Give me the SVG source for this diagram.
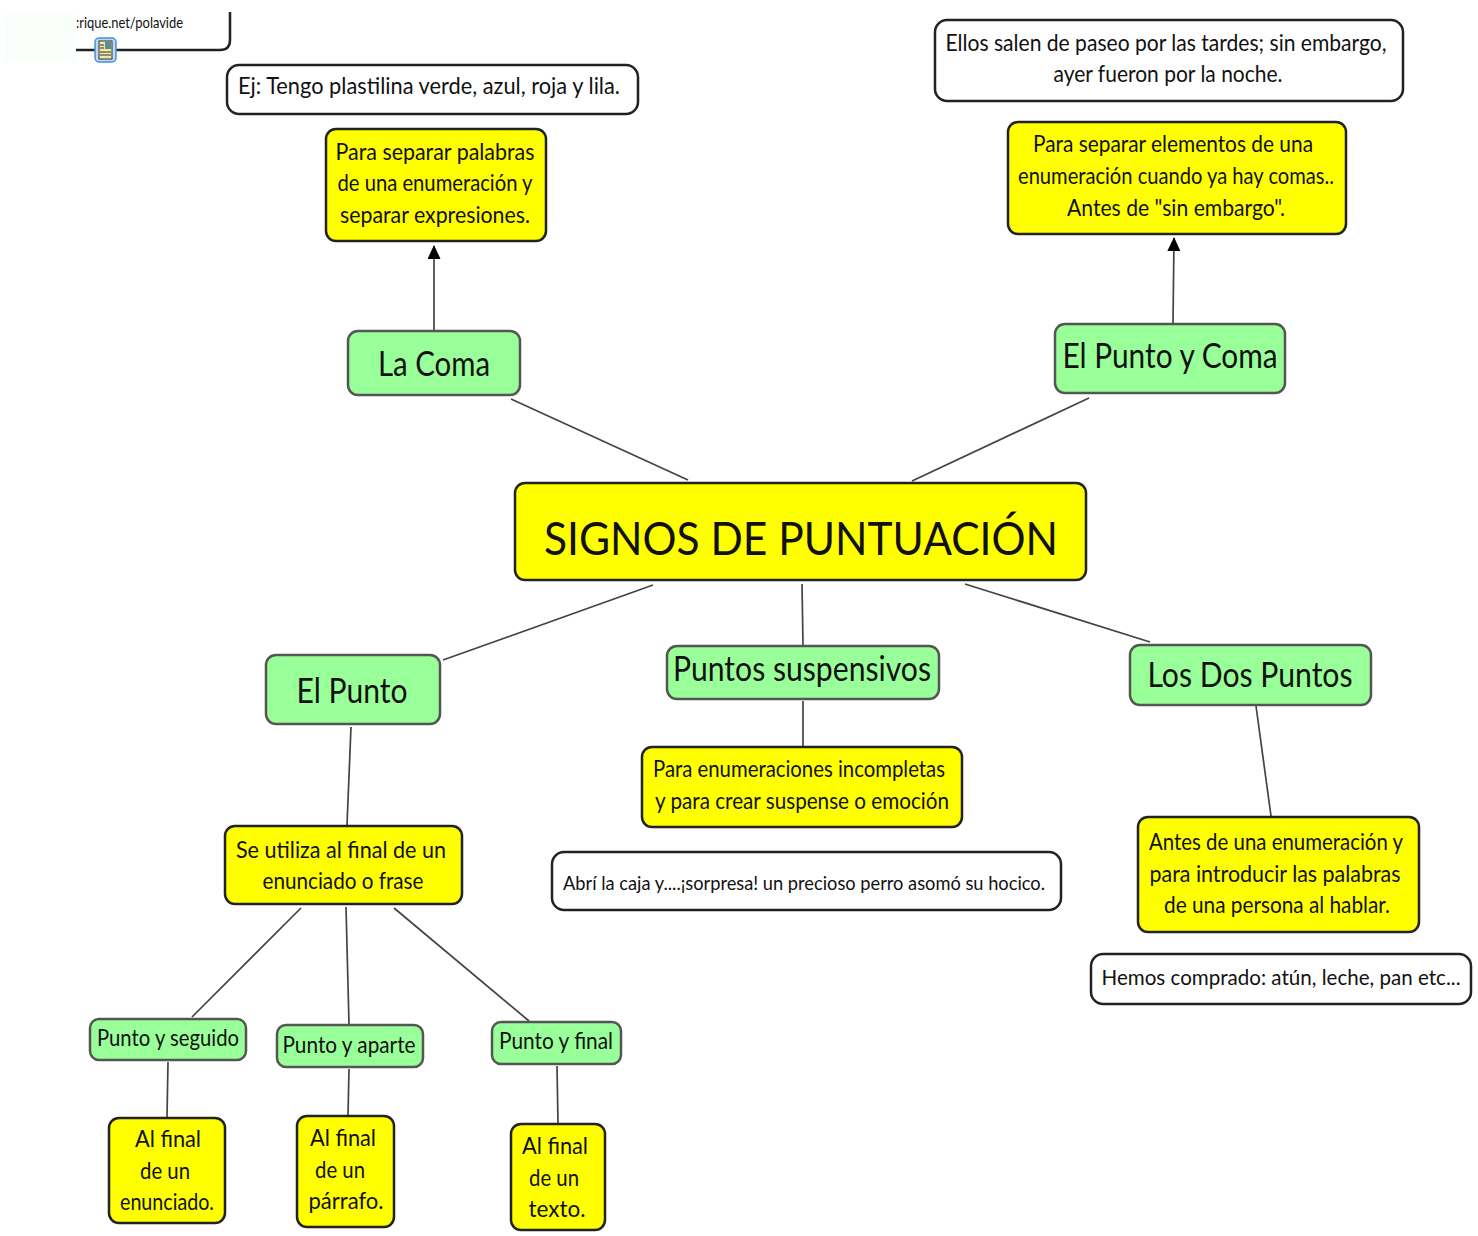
<svg xmlns="http://www.w3.org/2000/svg" width="1478" height="1236" viewBox="0 0 1478 1236">
<style>
text{font-family:"Lato","Liberation Sans",sans-serif;fill:#111;text-anchor:middle;font-size:23px}
.y{fill:#ffff00;stroke:#222;stroke-width:2.5}
.g{fill:#99ff99;stroke:#555;stroke-width:2.5}
.w{fill:#fff;stroke:#222;stroke-width:2.5}
.c line{stroke:#444;stroke-width:1.7}
</style>
<defs><marker id="a" markerWidth="14" markerHeight="16" refX="13" refY="6.5" orient="auto" markerUnits="userSpaceOnUse"><path d="M0,0L14,6.5L0,13Z" fill="#000"/></marker></defs>
<rect width="1478" height="1236" fill="#fff"/>
<rect x="5" y="12" width="71" height="50" fill="#fbfffb"/>
<g class="c">
<line x1="434" y1="330" x2="434" y2="246" marker-end="url(#a)"/>
<line x1="1173" y1="323" x2="1174" y2="238" marker-end="url(#a)"/>
<line x1="511" y1="399" x2="688" y2="480"/>
<line x1="1089" y1="398" x2="912" y2="481"/>
<line x1="653" y1="585" x2="443" y2="660"/>
<line x1="802" y1="584" x2="803" y2="645"/>
<line x1="965" y1="584" x2="1150" y2="642"/>
<line x1="803" y1="701" x2="803" y2="746"/>
<line x1="1256" y1="706" x2="1271" y2="816"/>
<line x1="351" y1="727" x2="347" y2="825"/>
<line x1="301" y1="908" x2="192" y2="1017"/>
<line x1="346" y1="907" x2="349" y2="1024"/>
<line x1="394" y1="908" x2="529" y2="1021"/>
<line x1="168" y1="1062" x2="167" y2="1117"/>
<line x1="349" y1="1069" x2="348" y2="1115"/>
<line x1="557" y1="1066" x2="558" y2="1123"/>
</g>
<g id="note-top"><path d="M76,50H220Q230,50 230,40V12" fill="#fff" stroke="#222" stroke-width="2.5"/><text x="129.500" y="28" style="font-size:15px" textLength="107" lengthAdjust="spacingAndGlyphs">:rique.net/polavide</text>
<g id="note-icon"><rect x="95" y="38" width="21" height="24" rx="4" fill="#bcd8f5" stroke="#4a8fd8" stroke-width="1.500"/><rect x="99" y="41" width="13" height="18" fill="#eee9a8" stroke="#333" stroke-width="1"/><path d="M100,45h4M100,48h4M100,52h11M100,55h11" stroke="#333" stroke-width="1"/><rect x="105" y="42" width="6" height="7" fill="#5a8f8f"/></g></g>
<g id="ej-coma"><rect class="w" x="227" y="65" width="411" height="49" rx="12"/><text x="429" y="94" textLength="382" lengthAdjust="spacingAndGlyphs">Ej: Tengo plastilina verde, azul, roja y lila.</text></g>
<g id="ej-puntoycoma"><rect class="w" x="935" y="20" width="468" height="81" rx="12"/><text x="1166" y="51" textLength="441" lengthAdjust="spacingAndGlyphs">Ellos salen de paseo por las tardes; sin embargo,</text><text x="1168" y="82" textLength="229" lengthAdjust="spacingAndGlyphs">ayer fueron por la noche.</text></g>
<g id="def-coma"><rect class="y" x="326" y="129" width="220" height="112" rx="10"/><text x="435" y="160" textLength="199" lengthAdjust="spacingAndGlyphs">Para separar palabras</text><text x="435" y="191" textLength="195" lengthAdjust="spacingAndGlyphs">de una enumeración y</text><text x="435" y="223" textLength="190" lengthAdjust="spacingAndGlyphs">separar expresiones.</text></g>
<g id="def-puntoycoma"><rect class="y" x="1008" y="122" width="338" height="112" rx="10"/><text x="1173" y="152" textLength="280" lengthAdjust="spacingAndGlyphs">Para separar elementos de una</text><text x="1176" y="184" textLength="316" lengthAdjust="spacingAndGlyphs">enumeración cuando ya hay comas..</text><text x="1176" y="216" textLength="218" lengthAdjust="spacingAndGlyphs">Antes de "sin embargo".</text></g>
<g id="la-coma"><rect class="g" x="348" y="331" width="172" height="64" rx="10"/><text x="434" y="376" style="font-size:35px" textLength="112" lengthAdjust="spacingAndGlyphs">La Coma</text></g>
<g id="punto-y-coma"><rect class="g" x="1055" y="324" width="230" height="69" rx="10"/><text x="1170" y="368" style="font-size:35px" textLength="215" lengthAdjust="spacingAndGlyphs">El Punto y Coma</text></g>
<g id="central"><rect class="y" x="515" y="483" width="571" height="97" rx="10"/><text x="801" y="555" style="font-size:47px" textLength="514" lengthAdjust="spacingAndGlyphs">SIGNOS DE PUNTUACIÓN</text></g>
<g id="el-punto"><rect class="g" x="266" y="655" width="174" height="69" rx="10"/><text x="352" y="703" style="font-size:35px" textLength="111" lengthAdjust="spacingAndGlyphs">El Punto</text></g>
<g id="suspensivos"><rect class="g" x="667" y="646" width="272" height="53" rx="10"/><text x="802" y="681" style="font-size:35px" textLength="258" lengthAdjust="spacingAndGlyphs">Puntos suspensivos</text></g>
<g id="dos-puntos"><rect class="g" x="1130" y="645" width="241" height="60" rx="10"/><text x="1250" y="687" style="font-size:35px" textLength="205" lengthAdjust="spacingAndGlyphs">Los Dos Puntos</text></g>
<g id="def-suspensivos"><rect class="y" x="642" y="747" width="320" height="80" rx="10"/><text x="799" y="777" textLength="292" lengthAdjust="spacingAndGlyphs">Para enumeraciones incompletas</text><text x="802" y="809" textLength="294" lengthAdjust="spacingAndGlyphs">y para crear suspense o emoción</text></g>
<g id="ej-suspensivos"><rect class="w" x="552" y="852" width="509" height="58" rx="12"/><text x="804" y="890" style="font-size:20px" textLength="482" lengthAdjust="spacingAndGlyphs">Abrí la caja y....¡sorpresa! un precioso perro asomó su hocico.</text></g>
<g id="def-dos-puntos"><rect class="y" x="1138" y="817" width="281" height="115" rx="10"/><text x="1276" y="850" textLength="254" lengthAdjust="spacingAndGlyphs">Antes de una enumeración y</text><text x="1275" y="882" textLength="251" lengthAdjust="spacingAndGlyphs">para introducir las palabras</text><text x="1277" y="913" textLength="226" lengthAdjust="spacingAndGlyphs">de una persona al hablar.</text></g>
<g id="ej-dos-puntos"><rect class="w" x="1091" y="954" width="380" height="50" rx="12"/><text x="1281" y="985" style="font-size:22px" textLength="359" lengthAdjust="spacingAndGlyphs">Hemos comprado: atún, leche, pan etc...</text></g>
<g id="def-punto"><rect class="y" x="225" y="826" width="237" height="78" rx="10"/><text x="341" y="858" textLength="210" lengthAdjust="spacingAndGlyphs">Se utiliza al final de un</text><text x="343" y="889" textLength="161" lengthAdjust="spacingAndGlyphs">enunciado o frase</text></g>
<g id="seguido"><rect class="g" x="90" y="1019" width="156" height="41" rx="9"/><text x="168" y="1046" textLength="142" lengthAdjust="spacingAndGlyphs">Punto y seguido</text></g>
<g id="aparte"><rect class="g" x="277" y="1025" width="146" height="42" rx="9"/><text x="349" y="1053" textLength="133" lengthAdjust="spacingAndGlyphs">Punto y aparte</text></g>
<g id="final"><rect class="g" x="492" y="1022" width="129" height="42" rx="9"/><text x="556" y="1049" textLength="114" lengthAdjust="spacingAndGlyphs">Punto y final</text></g>
<g id="al-final-1"><rect class="y" x="109" y="1118" width="116" height="105" rx="10"/><text x="168" y="1147" textLength="66" lengthAdjust="spacingAndGlyphs">Al final</text><text x="165" y="1179" textLength="50" lengthAdjust="spacingAndGlyphs">de un</text><text x="167" y="1210" textLength="94" lengthAdjust="spacingAndGlyphs">enunciado.</text></g>
<g id="al-final-2"><rect class="y" x="297" y="1116" width="97" height="111" rx="10"/><text x="343" y="1146" textLength="66" lengthAdjust="spacingAndGlyphs">Al final</text><text x="340" y="1178" textLength="50" lengthAdjust="spacingAndGlyphs">de un</text><text x="346" y="1209" textLength="75" lengthAdjust="spacingAndGlyphs">párrafo.</text></g>
<g id="al-final-3"><rect class="y" x="511" y="1124" width="94" height="106" rx="10"/><text x="555" y="1154" textLength="66" lengthAdjust="spacingAndGlyphs">Al final</text><text x="554" y="1186" textLength="50" lengthAdjust="spacingAndGlyphs">de un</text><text x="557" y="1217" textLength="57" lengthAdjust="spacingAndGlyphs">texto.</text></g>
</svg>
